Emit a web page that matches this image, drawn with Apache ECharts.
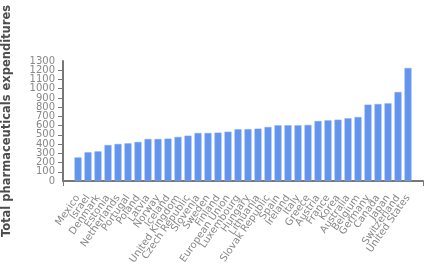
<!DOCTYPE html>
<html><head><meta charset="utf-8">
<script src="https://cdn.jsdelivr.net/npm/echarts@6/dist/echarts.min.js"></script>
<style>html,body{margin:0;padding:0;background:#fff}#c{width:431px;height:280px}</style>
</head><body><div id="c"></div>
<script>
const categories = ["Mexico","Israel","Denmark","Estonia","Netherlands","Portugal","Poland","Latvia","Norway","Iceland","United Kingdom","Czech Republic","Slovenia","Sweden","Finland","European Union","Luxembourg","Hungary","Lithuania","Slovak Republic","Spain","Ireland","Italy","Greece","Austria","France","Korea","Australia","Belgium","Germany","Canada","Japan","Switzerland","United States"];
const values = [255,311,321,390,401,408,423,455,455,459,477,491,520,520,524,534,560,562,567,585,603,603,603,607,650,657,664,679,693,827,834,841,964,1224];
const yTicks = [0,100,200,300,400,500,600,700,800,900,1000,1100,1200,1300];
const yTitle = "Total pharmaceuticals expenditures";

const yMin = yTicks[0], yMax = yTicks[yTicks.length-1];
const cats = [''].concat(categories, ['']);
const vals = ['-'].concat(values, ['-']);
const chart = echarts.init(document.getElementById('c'), null, {renderer:'canvas'});
const axisCol = '#777';
const labCol = '#888';
const labStyle = {color:labCol, fontSize:10, fontFamily:'DejaVu Sans', margin:8, hideOverlap:false};
chart.setOption({
  animation:false,
  grid:{left:63, right:8, top:61, bottom:99, containLabel:false, outerBoundsMode:'none'},
  xAxis:[{
    type:'category', data:cats, boundaryGap:true,
    axisLine:{lineStyle:{color:axisCol, width:2}},
    axisTick:{alignWithLabel:true, length:5, lineStyle:{color:axisCol}, interval:(i)=> i>0 && i<cats.length-1},
    axisLabel:{rotate:55, interval:0, color:labCol, fontSize:10, fontFamily:'DejaVu Sans', margin:15, padding:[18,0,0,0], hideOverlap:false},
    splitLine:{show:false}
  },{
    type:'value', min:0, max:1, interval:1, position:'bottom',
    axisLine:{show:false}, axisLabel:{show:false}, splitLine:{show:false},
    axisTick:{show:true, length:5, lineStyle:{color:axisCol}}
  }],
  yAxis:[{
    type:'value', min:yMin, max:yMax, interval:100, position:'left',
    name:yTitle, nameLocation:'middle', nameGap:50,
    nameTextStyle:{color:'#4d4d4d', fontWeight:'bold', fontSize:11.5, fontFamily:'DejaVu Sans'},
    axisLine:{show:true, lineStyle:{color:axisCol, width:2}},
    axisTick:{show:true, length:5, lineStyle:{color:axisCol}},
    axisLabel:Object.assign({showMinLabel:false, showMaxLabel:false, formatter:(v)=>String(v)}, labStyle),
    splitLine:{show:false}
  },{
    type:'value', min:yMin, max:yMax, interval:100, position:'left', offset:0,
    axisLine:{show:false}, axisTick:{show:false}, splitLine:{show:false},
    axisLabel:Object.assign({showMinLabel:true, showMaxLabel:true,
      formatter:(v)=> (v===yMin || v===yMax) ? String(v) : ''}, labStyle)
  }],
  series:[{
    type:'bar', data:vals, barWidth:7, xAxisIndex:0, yAxisIndex:0,
    itemStyle:{color:'#6495ED', borderColor:'#7ea6f0', borderWidth:0.5}
  }]
});
</script></body></html>
